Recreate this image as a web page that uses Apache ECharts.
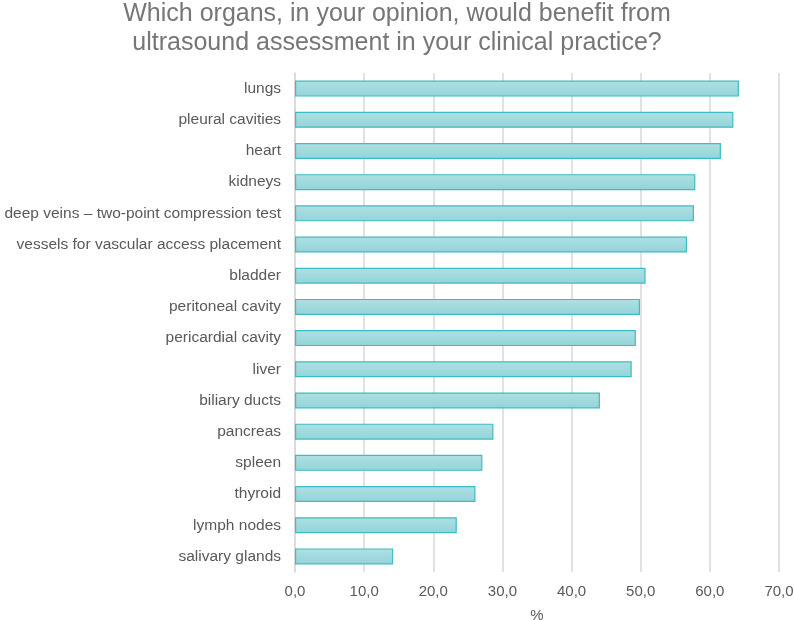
<!DOCTYPE html>
<html>
<head>
<meta charset="utf-8">
<script src="https://cdn.jsdelivr.net/npm/echarts@6/dist/echarts.min.js"></script>
<style>
  html, body { margin: 0; padding: 0; background: #fff; }
  #chart { width: 794px; height: 620px; }
</style>
</head>
<body>
<div id="chart"></div>
<script>
// categories top to bottom
const organs = [
  'lungs',
  'pleural cavities',
  'heart',
  'kidneys',
  'deep veins – two-point compression test',
  'vessels for vascular access placement',
  'bladder',
  'peritoneal cavity',
  'pericardial cavity',
  'liver',
  'biliary ducts',
  'pancreas',
  'spleen',
  'thyroid',
  'lymph nodes',
  'salivary glands'
];
const percent = [64.2, 63.4, 61.6, 57.9, 57.7, 56.7, 50.7, 49.9, 49.3, 48.7, 44.1, 28.7, 27.1, 26.1, 23.4, 14.2];

const xTicks = { min: 0, max: 70, interval: 10 };

const chart = echarts.init(document.getElementById('chart'));

const option = {
  animation: false,
  title: {
    text: 'Which organs, in your opinion, would benefit from\nultrasound assessment in your clinical practice?',
    left: 'center',
    top: -5,
    textStyle: {
      color: '#767676',
      fontFamily: 'Liberation Sans',
      fontWeight: 'normal',
      fontSize: 25,
      lineHeight: 29
    }
  },
  grid: {
    top: 73,
    left: 295,
    right: 15,
    bottom: 48,
    outerBoundsMode: 'none'
  },
  xAxis: {
    type: 'value',
    min: xTicks.min,
    max: xTicks.max,
    interval: xTicks.interval,
    name: '%',
    nameLocation: 'middle',
    nameGap: 36,
    nameTextStyle: { color: '#595959', fontSize: 15, fontFamily: 'Liberation Sans' },
    axisLabel: {
      color: '#595959',
      fontSize: 15,
      fontFamily: 'Liberation Sans',
      margin: 12,
      formatter: v => v.toFixed(1).replace('.', ',')
    },
    axisLine: { show: false },
    axisTick: { show: false },
    splitLine: { show: true, lineStyle: { color: '#d9d9d9', width: 1.5 } }
  },
  yAxis: {
    type: 'category',
    inverse: true,
    data: organs,
    axisLabel: {
      color: '#595959',
      fontSize: 15.5,
      fontFamily: 'Liberation Sans',
      margin: 14
    },
    axisLine: { show: true, lineStyle: { color: '#d9d9d9', width: 1.5 } },
    axisTick: { show: false }
  },
  series: [
    {
      type: 'bar',
      data: percent,
      barWidth: 16,
      itemStyle: {
        color: new echarts.graphic.LinearGradient(0, 0, 0, 1, [
          { offset: 0, color: '#b0e0e3' },
          { offset: 1, color: '#92d4d9' }
        ]),
        borderColor: '#3cbcc6',
        borderWidth: 1.2
      }
    }
  ]
};

chart.setOption(option);
</script>
</body>
</html>
